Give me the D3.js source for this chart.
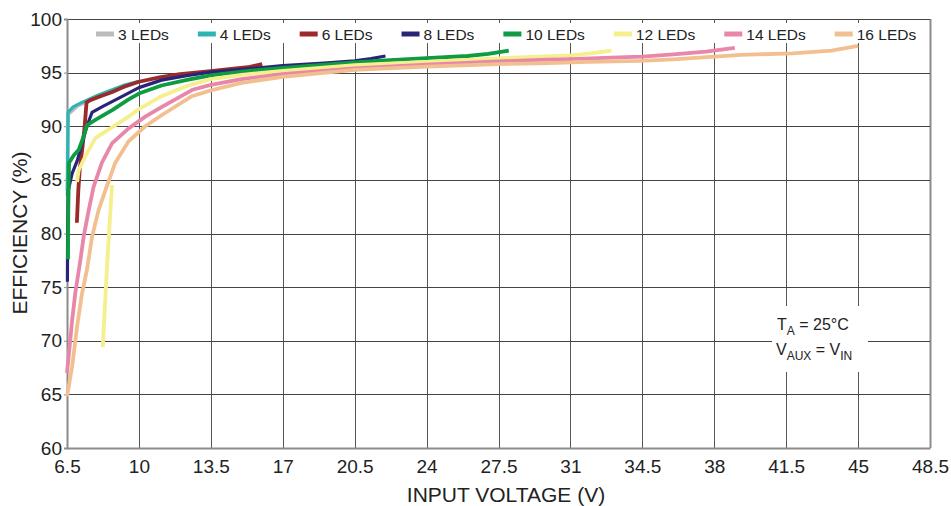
<!DOCTYPE html>
<html>
<head>
<meta charset="utf-8">
<script src="https://cdn.jsdelivr.net/npm/d3@7"></script>
<style>
  html, body { margin: 0; padding: 0; background: #fff; }
  svg { display: block; font-family: "Liberation Sans", Arial, Helvetica, sans-serif; }
</style>
</head>
<body>
<svg id="chart" width="951" height="506"></svg>
<script>
// ---------- DATA ----------
const xTicks = [6.5, 10, 13.5, 17, 20.5, 24, 27.5, 31, 34.5, 38, 41.5, 45, 48.5];
const xTickLabels = ["6.5", "10", "13.5", "17", "20.5", "24", "27.5", "31", "34.5", "38", "41.5", "45", "48.5"];
const yTicks = [60, 65, 70, 75, 80, 85, 90, 95, 100];
const yTickLabels = ["60", "65", "70", "75", "80", "85", "90", "95", "100"];

const seriesNames = ["3 LEDs", "4 LEDs", "6 LEDs", "8 LEDs", "10 LEDs", "12 LEDs", "14 LEDs", "16 LEDs"];
const seriesColors = ["#bcbcbc", "#2db4b4", "#9b2a2a", "#2a2478", "#0e9b42", "#f5ef8e", "#e887aa", "#f2c090"];

// [input voltage (V), efficiency (%)]
const led3 = [[6.52,84.0],[6.55,91.1],[7.0,91.9],[7.5,92.35],[8.7,93.3],[9.6,93.9]];
const led4 = [[6.52,83.5],[6.55,91.3],[6.8,91.8],[7.2,92.2],[7.5,92.45],[8.0,92.9],[8.7,93.4],[9.3,93.85],[10.0,94.2]];
const led6 = [[6.98,81.0],[7.05,84.0],[7.12,86.0],[7.25,88.0],[7.36,90.0],[7.45,92.2],[7.6,92.4],[8.0,92.7],[8.7,93.2],[9.3,93.7],[10.0,94.15],[11.0,94.55],[12.0,94.85],[13.5,95.15],[14.5,95.35],[15.3,95.5],[16.0,95.8]];
const led8 = [[6.52,75.5],[6.53,80.0],[6.56,84.0],[6.75,85.6],[7.0,86.8],[7.23,88.4],[7.47,90.0],[7.72,91.3],[8.2,91.8],[9.0,92.6],[10.0,93.6],[11.1,94.3],[12.4,94.75],[13.5,95.05],[15.0,95.3],[17.0,95.65],[19.0,95.9],[20.5,96.1],[21.3,96.3],[22.0,96.55]];
const led10 = [[6.55,77.6],[6.56,82.0],[6.6,86.6],[6.83,87.3],[7.07,87.8],[7.3,89.0],[7.47,90.1],[7.88,90.6],[8.7,91.5],[9.5,92.5],[10.0,93.05],[11.1,93.8],[12.4,94.35],[13.5,94.75],[15.0,95.1],[17.0,95.45],[20.5,95.95],[22.0,96.15],[24.0,96.35],[26.0,96.55],[27.0,96.75],[28.0,97.05]];
const led12Start = [[8.24,69.4],[8.45,77.0],[8.69,84.5]];
const led12 = [[6.99,84.8],[7.07,85.9],[7.39,87.2],[7.88,88.9],[8.69,89.9],[9.5,90.9],[10.0,91.6],[11.1,92.8],[12.4,93.8],[13.5,94.4],[15.0,94.8],[17.0,95.15],[20.5,95.7],[24.0,96.0],[27.5,96.33],[29.5,96.5],[31.0,96.6],[32.0,96.8],[33.0,97.05]];
const led14 = [[6.5,67.0],[6.6,68.9],[6.75,71.9],[6.9,74.4],[7.15,77.5],[7.31,79.7],[7.56,82.2],[7.8,84.4],[8.2,86.6],[8.69,88.4],[9.5,89.8],[10.31,90.9],[11.12,91.8],[12.6,93.4],[13.5,93.85],[15.0,94.4],[17.0,94.85],[20.5,95.4],[24.0,95.75],[27.5,96.05],[29.5,96.18],[31.0,96.25],[33.0,96.4],[34.5,96.5],[36.0,96.7],[37.6,96.95],[39.0,97.3]];
const led16 = [[6.5,64.8],[6.75,67.6],[6.99,71.3],[7.23,74.4],[7.47,76.6],[7.72,79.7],[8.04,82.2],[8.37,84.05],[8.85,86.6],[9.5,88.6],[10.31,90.0],[11.12,91.05],[12.58,92.8],[13.5,93.35],[15.0,94.05],[17.0,94.6],[20.5,95.25],[24.0,95.55],[27.5,95.8],[29.5,95.86],[31.9,96.0],[34.4,96.1],[36.0,96.24],[38.0,96.5],[39.3,96.65],[41.8,96.8],[43.7,97.05],[45.0,97.5]];

const seriesData = [[led3], [led4], [led6], [led8], [led10], [led12Start, led12], [led14], [led16]];

// ---------- LAYOUT ----------
const svg = d3.select("#chart");
const L = 67, R = 930, T = 19, B = 448;

const x = d3.scaleLinear().domain([6.5, 48.5]).range([L, R]);
const y = d3.scaleLinear().domain([60, 100]).range([B, T]);

// grid
const grid = svg.append("g");
grid.selectAll("line.v").data(xTicks.slice(1)).join("line")
  .attr("x1", d => Math.round(x(d)) + 0.5).attr("x2", d => Math.round(x(d)) + 0.5)
  .attr("y1", T).attr("y2", B)
  .attr("stroke", d => d === 48.5 ? "#8c8c8c" : "#555").attr("stroke-width", d => d === 48.5 ? 2 : 1);
grid.selectAll("line.h").data(yTicks.slice(1)).join("line")
  .attr("x1", L).attr("x2", R)
  .attr("y1", d => Math.round(y(d)) + 0.5).attr("y2", d => Math.round(y(d)) + 0.5)
  .attr("stroke", "#444").attr("stroke-width", 1);

// axes
const xAxis = d3.axisBottom(x).tickValues(xTicks).tickFormat((d, i) => xTickLabels[i]).tickSize(0).tickPadding(12);
const gx = svg.append("g").attr("transform", `translate(0,${B})`).call(xAxis);
gx.select(".domain").attr("stroke", "#8c8c8c").attr("stroke-width", 2);
gx.selectAll("text").attr("font-size", 19).attr("fill", "#222").attr("font-family", "Liberation Sans, Arial, sans-serif");

const yAxis = d3.axisLeft(y).tickValues(yTicks).tickFormat((d, i) => yTickLabels[i]).tickSize(3).tickPadding(2);
const gy = svg.append("g").attr("transform", `translate(${L},0)`).call(yAxis);
gy.select(".domain").attr("stroke", "#8c8c8c").attr("stroke-width", 2);
gy.selectAll(".tick line").attr("stroke", "#8c8c8c");
gy.selectAll("text").attr("font-size", 19).attr("fill", "#222").attr("font-family", "Liberation Sans, Arial, sans-serif");

// legend background
svg.append("rect").attr("x", 82).attr("y", 23).attr("width", 843).attr("height", 20).attr("fill", "#fff");

// annotation background
svg.append("rect").attr("x", 772).attr("y", 306).attr("width", 96).attr("height", 66).attr("fill", "#fff");

// curves
const line = d3.line().x(d => x(d[0])).y(d => y(d[1]));
const curves = svg.append("g").attr("fill", "none").attr("stroke-linejoin", "round").attr("stroke-linecap", "butt");
seriesData.forEach((segs, i) => {
  segs.forEach(seg => {
    curves.append("path").datum(seg).attr("d", line)
      .attr("stroke", seriesColors[i])
      .attr("stroke-width", (i === 1 || i === 3) ? 3.2 : 3.8);
  });
});

// legend
const lg = svg.append("g").attr("font-size", 15.5).attr("fill", "#222");
let lx = 96;
seriesNames.forEach((name, i) => {
  lg.append("line").attr("x1", lx).attr("x2", lx + 18).attr("y1", 34).attr("y2", 34)
    .attr("stroke", seriesColors[i]).attr("stroke-width", 5);
  const t = lg.append("text").attr("x", lx + 22).attr("y", 40).text(name);
  const w = t.node().getComputedTextLength();
  lx += 22 + w + 29;
});

// axis titles
svg.append("text").attr("x", 506).attr("y", 502).attr("text-anchor", "middle")
  .attr("font-size", 21).attr("fill", "#222").text("INPUT VOLTAGE (V)");
svg.append("text").attr("transform", "translate(27,233) rotate(-90)").attr("text-anchor", "middle")
  .attr("font-size", 21).attr("fill", "#222").text("EFFICIENCY (%)");

// annotation
const an = svg.append("g").attr("font-size", 16).attr("fill", "#222");
const t1 = an.append("text").attr("x", 777).attr("y", 330);
t1.append("tspan").text("T");
t1.append("tspan").attr("font-size", 12).attr("dy", 5).text("A");
t1.append("tspan").attr("dy", -5).text(" = 25°C");
const t2 = an.append("text").attr("x", 776).attr("y", 355);
t2.append("tspan").text("V");
t2.append("tspan").attr("font-size", 12).attr("dy", 5).text("AUX");
t2.append("tspan").attr("dy", -5).text(" = V");
t2.append("tspan").attr("font-size", 12).attr("dy", 5).text("IN");
</script>
</body>
</html>
